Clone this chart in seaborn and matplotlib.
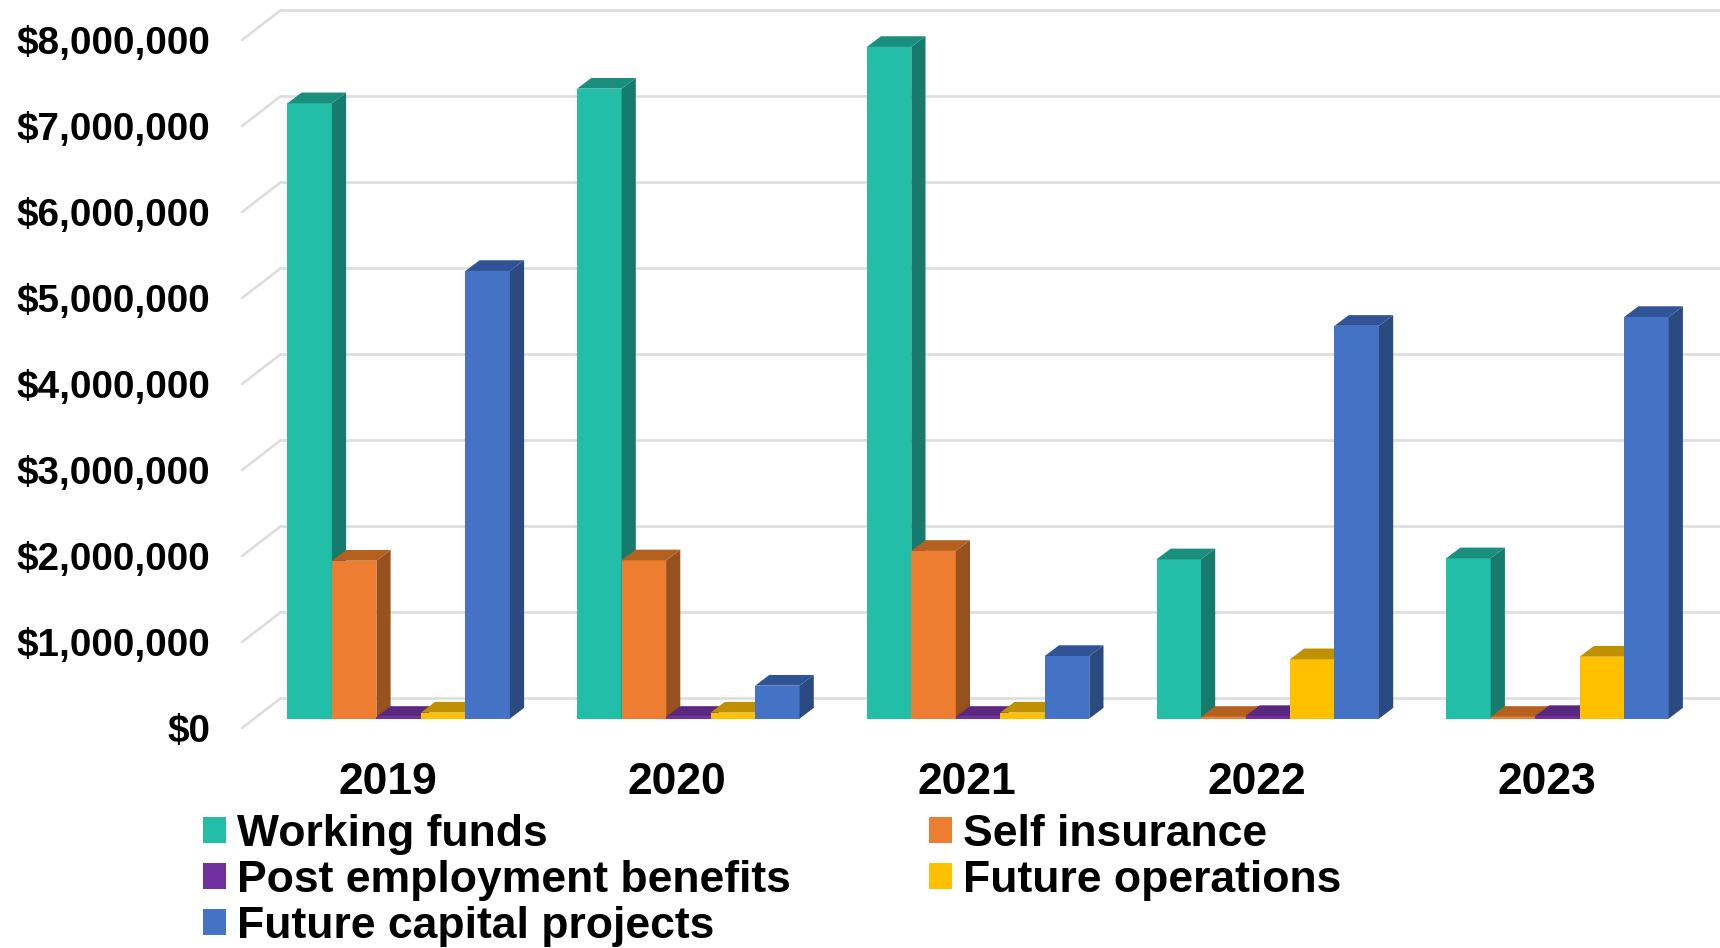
import matplotlib
matplotlib.use("Agg")
import matplotlib.pyplot as plt
from matplotlib.patches import Polygon
from matplotlib.transforms import Affine2D
import pandas as pd
import seaborn as sns

# Reserve balances by year, in dollars
years = ["2019", "2020", "2021", "2022", "2023"]
working_funds = [7155000, 7325000, 7810000, 1852000, 1864000]
self_insurance = [1836000, 1840000, 1950000, 20000, 20000]
post_employment = [20000, 20000, 20000, 30000, 30000]
future_operations = [70000, 70000, 70000, 690000, 720000]
future_capital = [5205000, 383000, 728000, 4567000, 4670000]

series_names = ["Working funds", "Self insurance", "Post employment benefits",
                "Future operations", "Future capital projects"]
series_values = [working_funds, self_insurance, post_employment,
                 future_operations, future_capital]

front_colors = ["#23BEA7", "#ED7D31", "#7030A0", "#FFC000", "#4472C4"]
side_colors = ["#167A6C", "#96511E", "#4C2070", "#A07800", "#2A4A80"]
top_colors = ["#1A8F7E", "#B4601F", "#5A2781", "#BF9000", "#2F5396"]

ytick_values = [i * 1_000_000 for i in range(9)]
ytick_labels = [f"${v:,.0f}" for v in ytick_values]

W, H = 1720, 948
GROUP_PX = 289.7          # pixels per category
VALUE_PX = 86 / 1e6       # pixels per dollar
FIRST_CENTER_PX = 398.65  # centre of the first category
BASE_PX = 718.6           # row of the bars' front base, from the top
AX_LEFT_PX = 242

sns.set_theme(style="white")
plt.rcParams["font.family"] = ["Liberation Sans", "DejaVu Sans"]
plt.rcParams["font.weight"] = "bold"

frame = pd.DataFrame({
    "year": [y for _ in series_names for y in years],
    "series": [n for n in series_names for _ in years],
    "value": [v for vals in series_values for v in vals],
})

fig = plt.figure(figsize=(W / 100, H / 100), dpi=100, facecolor="white")
ax = fig.add_axes([AX_LEFT_PX / W, (H - BASE_PX) / H, 1 - AX_LEFT_PX / W, BASE_PX / H])
ax.set_facecolor("none")

sns.barplot(data=frame, x="year", y="value", hue="series", order=years,
            hue_order=series_names, palette=front_colors, width=0.768, gap=0,
            saturation=1, linewidth=0, ax=ax)

ax.set_xlim((AX_LEFT_PX - FIRST_CENTER_PX) / GROUP_PX, (W - FIRST_CENTER_PX) / GROUP_PX)
ax.set_ylim(0, BASE_PX / VALUE_PX)

# Depth of the bars and of the floor/wall box, converted to data units
bar_dx, bar_dy = 14.2 / GROUP_PX, 10.7 / VALUE_PX
wall_front_x = ax.get_xlim()[0]
wall_back_x = (281 - FIRST_CENTER_PX) / GROUP_PX
wall_front_dy, wall_back_dy = -9.4 / VALUE_PX, 20.6 / VALUE_PX
right_x = ax.get_xlim()[1]

# Back wall gridlines and their return along the side wall
for v in ytick_values:
    ax.plot([wall_back_x, right_x], [v + wall_back_dy] * 2, color="#DEDEDE", lw=1.9,
            clip_on=False, zorder=1, solid_capstyle="butt")
    ax.plot([wall_front_x, wall_back_x], [v + wall_front_dy, v + wall_back_dy],
            color="#DEDEDE", lw=1.9, clip_on=False, zorder=1)

# Extruded side and top faces for each bar
for i, container in enumerate(ax.containers):
    for patch in container:
        z = 3 + i * 0.1
        patch.set_zorder(z)
        x0, w, h = patch.get_x(), patch.get_width(), patch.get_height()
        x1 = x0 + w
        ax.add_patch(Polygon([(x1, 0), (x1 + bar_dx, bar_dy), (x1 + bar_dx, h + bar_dy), (x1, h)],
                             closed=True, fc=side_colors[i], lw=0, zorder=z + 0.01, clip_on=False))
        ax.add_patch(Polygon([(x0, h), (x0 + bar_dx, h + bar_dy), (x1 + bar_dx, h + bar_dy), (x1, h)],
                             closed=True, fc=top_colors[i], lw=0, zorder=z + 0.02, clip_on=False))

sns.despine(ax=ax, left=True, bottom=True, top=True, right=True)
ax.set_xlabel("")
ax.set_ylabel("")
ax.grid(False)

ax.set_yticks(ytick_values, ytick_labels)
ax.tick_params(axis="y", length=0, pad=23, labelsize=27.8, labelcolor="black")
ax.tick_params(axis="x", length=0, pad=31, labelsize=32, labelcolor="black")
for lab in ax.get_yticklabels():
    lab.set_fontweight("bold")
    lab.set_transform(lab.get_transform() + Affine2D().translate(0, -9))
for lab in ax.get_xticklabels():
    lab.set_fontweight("bold")
    lab.set_transform(lab.get_transform() + Affine2D().translate(-11, 0))

# Legend filled column by column, so list entries in reading order per column
handles, labels = ax.get_legend_handles_labels()
order = [0, 2, 4, 1, 3]
ax.legend([handles[i] for i in order], [labels[i] for i in order],
          ncol=2, frameon=False, loc="upper left",
          bbox_to_anchor=(203 / W, 1 - 814 / H), bbox_transform=fig.transFigure,
          prop={"size": 32, "weight": "bold", "family": "Liberation Sans"},
          borderpad=0, borderaxespad=0, handlelength=0.52, handleheight=0.52,
          handletextpad=0.25, labelspacing=0.11, columnspacing=3.1, labelcolor="black")

fig.savefig("out.png", dpi=100, facecolor="white")
